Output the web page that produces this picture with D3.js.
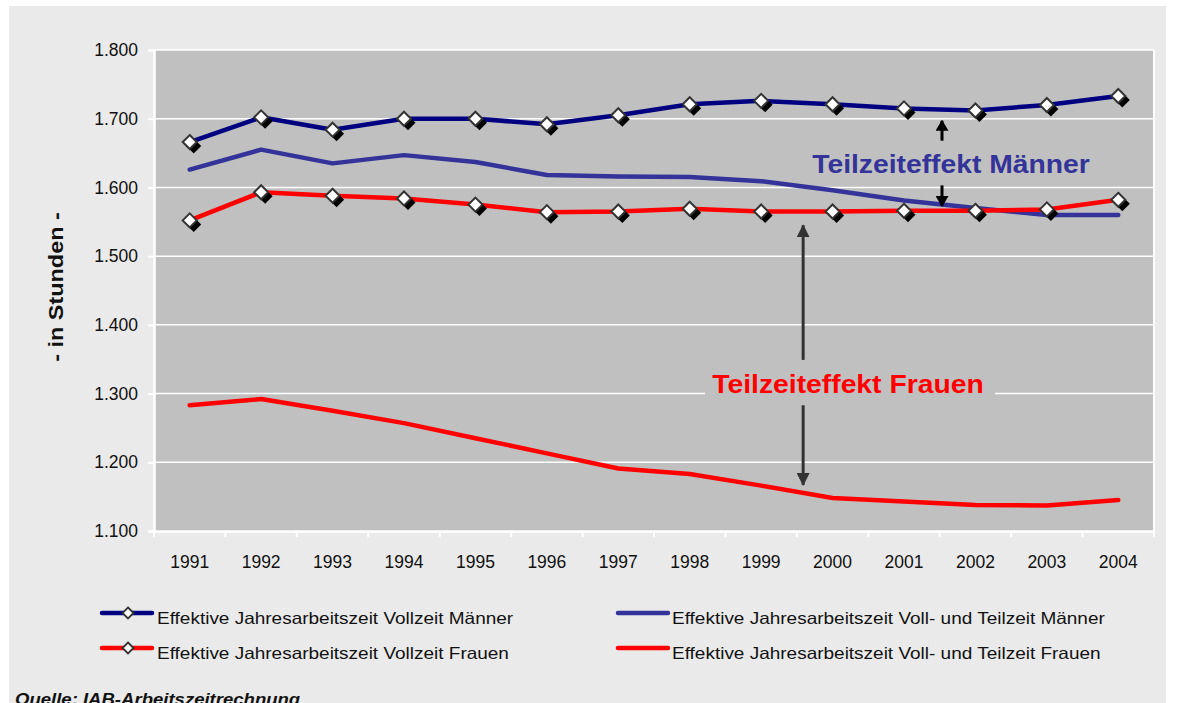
<!DOCTYPE html>
<html>
<head>
<meta charset="utf-8">
<script src="https://cdn.jsdelivr.net/npm/d3@7"></script>
<style>
  body { margin: 0; background: #ffffff; }
  svg { display: block; font-family: "Liberation Sans", Arial, sans-serif; }
</style>
</head>
<body>
<script>
// Daten der Grafik
var jahre = ["1991", "1992", "1993", "1994", "1995", "1996", "1997", "1998", "1999", "2000", "2001", "2002", "2003", "2004"];
var vollzeitMaenner = [1666, 1702, 1684, 1700, 1700, 1692, 1705, 1721, 1726, 1721, 1715, 1712, 1720, 1733];
var vollTeilMaenner = [1626, 1655, 1635, 1647, 1637, 1618, 1616, 1615, 1609, 1596, 1581, 1570, 1560, 1560];
var vollzeitFrauen = [1552, 1593, 1588, 1584, 1575, 1564, 1565, 1569, 1565, 1565, 1566, 1566, 1568, 1582];
var vollTeilFrauen = [1283, 1292, 1275, 1257, 1235, 1213, 1191, 1183, 1166, 1148, 1143, 1138, 1137, 1145];
var yTicks = [1100, 1200, 1300, 1400, 1500, 1600, 1700, 1800];

var reihen = [
  { name: "Effektive Jahresarbeitszeit Vollzeit Männer", werte: vollzeitMaenner, farbe: "#000080", marker: true },
  { name: "Effektive Jahresarbeitszeit Voll- und Teilzeit Männer", werte: vollTeilMaenner, farbe: "#333399", marker: false },
  { name: "Effektive Jahresarbeitszeit Vollzeit Frauen", werte: vollzeitFrauen, farbe: "#ff0000", marker: true },
  { name: "Effektive Jahresarbeitszeit Voll- und Teilzeit Frauen", werte: vollTeilFrauen, farbe: "#ff0000", marker: false }
];

var W = 1186, H = 703;
var plot = { left: 154, right: 1154, top: 50, bottom: 531 };

var svg = d3.select("body").append("svg")
  .attr("width", W)
  .attr("height", H);

// Schrift leicht in die Breite ziehen (wie im Original)
function strecken(sel, faktor) {
  sel.each(function () {
    var l = this.getComputedTextLength();
    d3.select(this).attr("textLength", l * faktor).attr("lengthAdjust", "spacingAndGlyphs");
  });
}

// Hintergrund
svg.append("rect").attr("x", 9).attr("y", 6).attr("width", 1157).attr("height", H - 6).attr("fill", "#eaeaea");
svg.append("rect")
  .attr("x", plot.left).attr("y", plot.top)
  .attr("width", plot.right - plot.left).attr("height", plot.bottom - plot.top)
  .attr("fill", "#c0c0c0");

// Skalen
var x = d3.scaleBand().domain(jahre).range([plot.left, plot.right]);
var y = d3.scaleLinear().domain([1100, 1800]).range([plot.bottom, plot.top]);
var deutsch = d3.formatLocale({ decimal: ",", thousands: ".", grouping: [3], currency: ["", " €"] });
var fmt = deutsch.format(",");

function cx(i) { return x(jahre[i]) + x.bandwidth() / 2; }

// Gitternetz
svg.append("g").selectAll("line")
  .data(yTicks.slice(1))
  .enter().append("line")
  .attr("x1", plot.left).attr("x2", plot.right)
  .attr("y1", function (d) { return y(d); }).attr("y2", function (d) { return y(d); })
  .attr("stroke", "#ffffff").attr("stroke-width", 1.5);

// rechter Rand
svg.append("line")
  .attr("x1", plot.right).attr("x2", plot.right)
  .attr("y1", plot.top).attr("y2", plot.bottom + 6)
  .attr("stroke", "#ffffff").attr("stroke-width", 2);

// Achsen
var yAxis = svg.append("g")
  .attr("transform", "translate(" + plot.left + ",0)")
  .call(d3.axisLeft(y).tickValues(yTicks).tickFormat(fmt).tickSize(6).tickPadding(10));
var xAxis = svg.append("g")
  .attr("transform", "translate(0," + plot.bottom + ")")
  .call(d3.axisBottom(x).tickSize(0).tickPadding(25));

[yAxis, xAxis].forEach(function (a) {
  a.select(".domain").attr("stroke", "#ffffff").attr("stroke-width", 2.5);
  a.selectAll(".tick line").attr("stroke", "#ffffff").attr("stroke-width", 2);
  a.selectAll(".tick text").attr("fill", "#111111").style("font-size", "17.5px");
});

// Teilstriche zwischen den Jahren
svg.append("g").selectAll("line")
  .data(jahre)
  .enter().append("line")
  .attr("x1", function (d) { return x(d); }).attr("x2", function (d) { return x(d); })
  .attr("y1", plot.bottom).attr("y2", plot.bottom + 6)
  .attr("stroke", "#ffffff").attr("stroke-width", 2);

// Achsentitel
svg.append("text")
  .attr("transform", "translate(63,287) rotate(-90)")
  .attr("text-anchor", "middle")
  .style("font-size", "19.5px").style("font-weight", "bold")
  .attr("fill", "#111111")
  .text("- in Stunden -")
  .call(strecken, 1.2);

// Linien
var linie = d3.line()
  .x(function (d, i) { return cx(i); })
  .y(function (d) { return y(d); });

reihen.forEach(function (r) {
  svg.append("path")
    .datum(r.werte)
    .attr("d", linie)
    .attr("fill", "none")
    .attr("stroke", r.farbe)
    .attr("stroke-width", 4.5)
    .attr("stroke-linejoin", "round")
    .attr("stroke-linecap", "round");
});

// Rauten-Marker
function raute(s) {
  return "M0," + (-s) + "L" + s + ",0L0," + s + "L" + (-s) + ",0Z";
}

reihen.filter(function (r) { return r.marker; }).forEach(function (r) {
  var g = svg.append("g");
  g.selectAll(".schatten")
    .data(r.werte)
    .enter().append("path")
    .attr("d", raute(7.5))
    .attr("transform", function (d, i) { return "translate(" + (cx(i) + 4) + "," + (y(d) + 4) + ")"; })
    .attr("fill", "#000000");
  g.selectAll(".marke")
    .data(r.werte)
    .enter().append("path")
    .attr("d", raute(7))
    .attr("transform", function (d, i) { return "translate(" + cx(i) + "," + y(d) + ")"; })
    .attr("fill", "#ffffff")
    .attr("stroke", "#333333")
    .attr("stroke-width", 2);
});

// Pfeile
var defs = svg.append("defs");
function pfeilspitze(id, farbe, w, l) {
  defs.append("marker")
    .attr("id", id)
    .attr("viewBox", "0 -" + w / 2 + " " + l + " " + w)
    .attr("refX", l - 1).attr("refY", 0)
    .attr("markerUnits", "userSpaceOnUse")
    .attr("markerWidth", l).attr("markerHeight", w)
    .attr("orient", "auto")
    .append("path")
    .attr("d", "M0,-" + w / 2 + "L" + l + ",0L0," + w / 2 + "Z")
    .attr("fill", farbe);
}
pfeilspitze("pfeilGrau", "#333333", 13, 13);
pfeilspitze("pfeilSchwarz", "#000000", 13, 11);

function pfeil(x0, y0, y1, farbe, id) {
  svg.append("line")
    .attr("x1", x0).attr("x2", x0)
    .attr("y1", y0).attr("y2", y1)
    .attr("stroke", farbe).attr("stroke-width", 3)
    .attr("marker-end", "url(#" + id + ")");
}

// Teilzeiteffekt Frauen
var xF = cx(8) + 42;
pfeil(xF, y(1349), y(1545), "#333333", "pfeilGrau");
pfeil(xF, y(1283), y(1167), "#333333", "pfeilGrau");
svg.append("rect")
  .attr("x", 705).attr("y", 368)
  .attr("width", 290).attr("height", 34)
  .attr("fill", "#c0c0c0");
svg.append("text")
  .attr("x", 848).attr("y", 393)
  .attr("text-anchor", "middle")
  .style("font-size", "26px").style("font-weight", "bold")
  .attr("fill", "#ff0000")
  .text("Teilzeiteffekt Frauen")
  .call(strecken, 271 / 249);

// Teilzeiteffekt Männer
var xM = cx(10) + 38;
pfeil(xM, y(1668), y(1697), "#000000", "pfeilSchwarz");
pfeil(xM, y(1603), y(1573), "#000000", "pfeilSchwarz");
svg.append("text")
  .attr("x", 951).attr("y", 173)
  .attr("text-anchor", "middle")
  .style("font-size", "25px").style("font-weight", "bold")
  .attr("fill", "#333399")
  .text("Teilzeiteffekt Männer")
  .call(strecken, 277 / 245);

// Legende
var legende = [
  { r: reihen[0], x: 102, y: 613 },
  { r: reihen[2], x: 102, y: 648 },
  { r: reihen[1], x: 618, y: 613 },
  { r: reihen[3], x: 618, y: 648 }
];
legende.forEach(function (l) {
  var g = svg.append("g").attr("transform", "translate(" + l.x + "," + l.y + ")");
  g.append("line")
    .attr("x1", 0).attr("x2", 50)
    .attr("stroke", l.r.farbe).attr("stroke-width", 4.5)
    .attr("stroke-linecap", "round");
  if (l.r.marker) {
    g.append("path")
      .attr("d", raute(5.5))
      .attr("transform", "translate(26,0)")
      .attr("fill", "#ffffff").attr("stroke", "#333333").attr("stroke-width", 1.8);
  }
  g.append("text")
    .attr("x", l.r.marker ? 55 : 54).attr("y", 11)
    .style("font-size", "16.5px")
    .attr("fill", "#111111")
    .text(l.r.name)
    .call(strecken, 1.15);
});

// Quelle (im Original unten abgeschnitten)
svg.append("text")
  .attr("x", 15).attr("y", 705)
  .style("font-size", "17px").style("font-weight", "bold").style("font-style", "italic")
  .attr("fill", "#111111")
  .text("Quelle: IAB-Arbeitszeitrechnung")
  .call(strecken, 1.09);
</script>
</body>
</html>
